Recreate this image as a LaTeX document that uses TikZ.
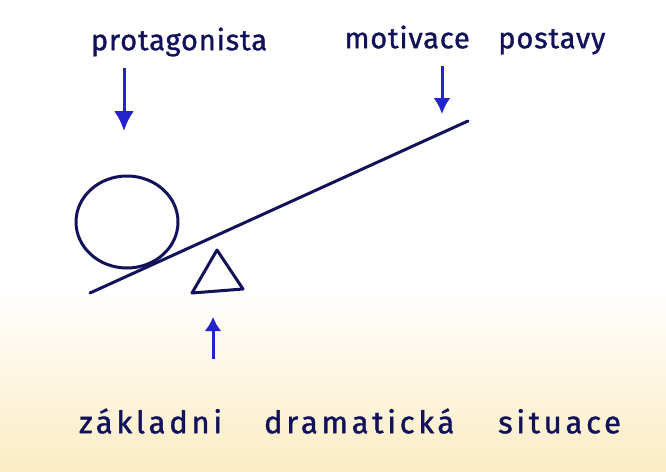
\documentclass[tikz,border=0pt]{standalone}
\usepackage{fontspec}
\setmainfont{Fira Sans}
\usetikzlibrary{arrows.meta,positioning,shapes.geometric}
\definecolor{skink}{RGB}{18,18,90}
\definecolor{skblue}{RGB}{35,35,205}
\definecolor{skpaper}{RGB}{251,236,195}

\begin{document}
\begin{tikzpicture}[x=1pt,y=-1pt,
  word/.style={font=\fontsize{29}{31}\selectfont\addfontfeature{LetterSpace=3,FakeBold=1.2}, text=skink, inner sep=0pt},
  wide/.style={font=\fontsize{31}{33}\selectfont\addfontfeature{LetterSpace=12,FakeBold=1.2}},
  arr/.style={-{Latex[length=20pt,width=20pt]}, line width=3pt, skblue},
  stroke/.style={line width=3pt, skink, line cap=round, line join=round}
]
\useasboundingbox (0,0) rectangle (666,471);
\fill[white] (0,0) rectangle (666,471);
\shade[top color=white, bottom color=skpaper] (0,290) rectangle (666,471);

% labels
\node[word] (prot)  at (179,42)  {protagonista};
\node[word] (motiv) at (475,40)  {motivace\hspace{20pt} postavy};
\node[word, wide] (situ) at (350,421) {základni\hspace{30pt} dramatická\hspace{32pt} situace};

% seesaw
\coordinate (beamL) at (90,293);
\coordinate (beamR) at (468,121);
\draw[stroke] (beamL) -- (beamR);
\node[stroke, draw, ellipse, minimum width=102pt, minimum height=92pt] (hero) at (127,222) {};
\draw[stroke] (217,250) coordinate (tipA) -- (192,293) -- (243,289) -- cycle;

% pointers
\coordinate (protTail)  at (124,68);
\coordinate (protTip)   at (124,131);
\coordinate (motivTail) at (442,66);
\coordinate (motivTip)  at (442,114);
\coordinate (situTail)  at (213,359);
\coordinate (situTip)   at (213,317);
\draw[arr] (protTail) -- (protTip);
\draw[arr, -{Latex[length=16pt,width=17pt]}] (motivTail) -- (motivTip);
\draw[arr, -{Latex[length=14pt,width=17pt]}] (situTail) -- (situTip);
\end{tikzpicture}
\end{document}
